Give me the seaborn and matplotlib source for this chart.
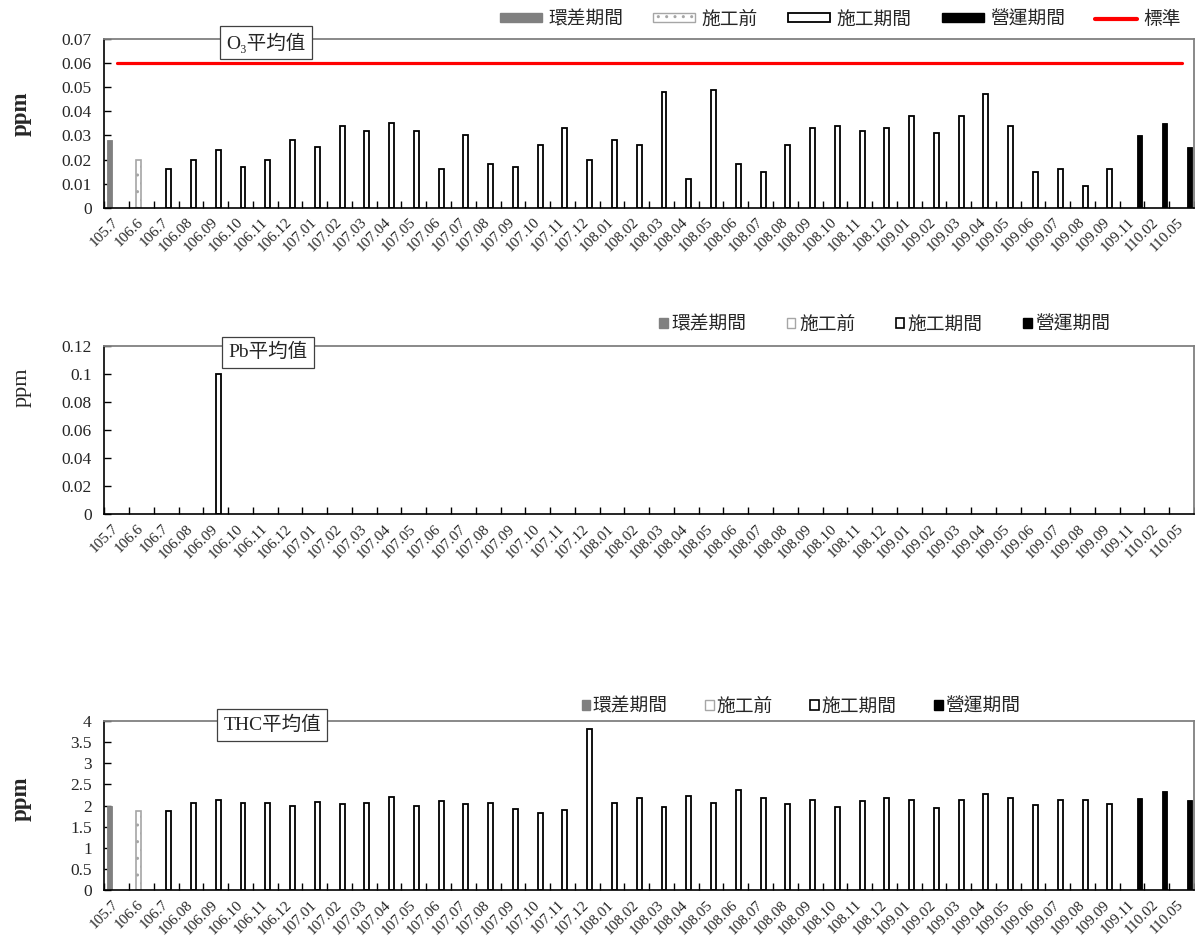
import numpy as np
import pandas as pd
import matplotlib
matplotlib.use("Agg")
import matplotlib.pyplot as plt
import seaborn as sns
from matplotlib.patches import Patch
from matplotlib.lines import Line2D
from matplotlib.ticker import MultipleLocator, FuncFormatter

# ---------------- data ----------------
categories = ["105.7", "106.6", "106.7", "106.08", "106.09", "106.10", "106.11", "106.12",
              "107.01", "107.02", "107.03", "107.04", "107.05", "107.06", "107.07", "107.08",
              "107.09", "107.10", "107.11", "107.12",
              "108.01", "108.02", "108.03", "108.04", "108.05", "108.06", "108.07", "108.08",
              "108.09", "108.10", "108.11", "108.12",
              "109.01", "109.02", "109.03", "109.04", "109.05", "109.06", "109.07", "109.08",
              "109.09", "109.11", "110.02", "110.05"]

periods = (["環差期間", "施工前"] + ["施工期間"] * 39 + ["營運期間"] * 3)
period_order = ["環差期間", "施工前", "施工期間", "營運期間"]

o3_values = [0.028, 0.020, 0.016, 0.020, 0.024, 0.017, 0.020, 0.028,
             0.025, 0.034, 0.032, 0.035, 0.032, 0.016, 0.030, 0.018, 0.017, 0.026, 0.033, 0.020,
             0.028, 0.026, 0.048, 0.012, 0.049, 0.018, 0.015, 0.026, 0.033, 0.034, 0.032, 0.033,
             0.038, 0.031, 0.038, 0.047, 0.034, 0.015, 0.016, 0.009, 0.016,
             0.030, 0.035, 0.025]
o3_standard = [0.06] * 44

pb_values = [None, None, None, None, 0.1, None, None, None,
             None, None, None, None, None, None, None, None, None, None, None, None,
             None, None, None, None, None, None, None, None, None, None, None, None,
             None, None, None, None, None, None, None, None, None,
             None, None, None]

thc_values = [2.00, 1.87, 1.87, 2.07, 2.13, 2.05, 2.06, 2.00,
              2.09, 2.03, 2.06, 2.21, 1.98, 2.11, 2.03, 2.06, 1.92, 1.83, 1.89, 3.80,
              2.07, 2.17, 1.97, 2.22, 2.06, 2.37, 2.17, 2.04, 2.13, 1.97, 2.11, 2.18,
              2.13, 1.93, 2.13, 2.28, 2.17, 2.02, 2.14, 2.12, 2.03,
              2.17, 2.35, 2.14]

# ---------------- style ----------------
sns.set_theme(style="white")
plt.rcParams["font.family"] = ["Liberation Serif", "Noto Sans CJK TC", "DejaVu Sans"]
plt.rcParams["hatch.color"] = "#9a9a9a"
plt.rcParams["hatch.linewidth"] = 1.0

GRAY = "#808080"
styles = {
    "環差期間": dict(facecolor=GRAY, edgecolor=GRAY, linewidth=0.6, hatch=None),
    "施工前": dict(facecolor="white", edgecolor="#a6a6a6", linewidth=1.2, hatch=".."),
    "施工期間": dict(facecolor="white", edgecolor="black", linewidth=1.3, hatch=None),
    "營運期間": dict(facecolor="black", edgecolor="black", linewidth=0.6, hatch=None),
}
palette = {"環差期間": GRAY, "施工前": "white", "施工期間": "white", "營運期間": "black"}

fig = plt.figure(figsize=(11.95, 9.41), dpi=100)
L, W = 104.3 / 1195, 1089.7 / 1195
ax1 = fig.add_axes([L, 1 - 207.7 / 941, W, 168.7 / 941])
ax2 = fig.add_axes([L, 1 - 514 / 941, W, 168.3 / 941])
ax3 = fig.add_axes([L, 1 - 890 / 941, W, 169 / 941])


def draw(ax, values, ymax, ystep, title, title_xy, ylab_bold, ylab_y):
    df = pd.DataFrame({"cat": categories, "period": periods, "value": values}).dropna()
    sns.barplot(data=df, x="cat", y="value", hue="period", order=categories,
                hue_order=period_order, palette=palette, width=0.8, dodge=True,
                errorbar=None, legend=False, saturation=1, ax=ax)
    for p in ax.patches:
        cx = p.get_x() + p.get_width() / 2
        off = cx - round(cx)
        idx = int(round((off + 0.3) / 0.2))
        idx = min(max(idx, 0), 3)
        st = styles[period_order[idx]]
        p.set_facecolor(st["facecolor"])
        p.set_edgecolor(st["edgecolor"])
        p.set_linewidth(st["linewidth"])
        if st["hatch"]:
            p.set_hatch(st["hatch"])
    ax.set_xlim(-0.5, len(categories) - 0.5)
    ax.set_ylim(0, ymax)
    ax.set_xlabel("")
    ax.set_ylabel("ppm", fontsize=16.5 if ylab_bold else 16,
                  fontweight="bold" if ylab_bold else "normal")
    ax.yaxis.set_label_coords(-0.067, ylab_y)
    ax.yaxis.set_major_locator(MultipleLocator(ystep))
    ax.yaxis.set_major_formatter(FuncFormatter(lambda v, pos: f"{round(v, 6):g}"))
    ax.tick_params(axis="y", direction="in", length=5, width=1, color="black",
                   pad=9, labelsize=12.5, left=True)
    ax.set_xticks(range(len(categories)))
    ax.set_xticklabels(categories, rotation=45, ha="right", va="center",
                       rotation_mode="anchor", fontsize=11)
    ax.tick_params(axis="x", which="major", length=0, pad=9, bottom=True)
    ax.set_xticks(np.arange(-0.5, len(categories), 1), minor=True)
    ax.tick_params(axis="x", which="minor", direction="in", length=5, width=1,
                   color="black", bottom=True)
    for s in ["top", "right"]:
        ax.spines[s].set_color(GRAY)
        ax.spines[s].set_linewidth(1.3)
    for s in ["left", "bottom"]:
        ax.spines[s].set_color("black")
        ax.spines[s].set_linewidth(1.2)
    ax.text(title_xy[0], title_xy[1], title, transform=ax.transAxes, ha="center",
            va="center", fontsize=14, zorder=10, clip_on=False,
            bbox=dict(boxstyle="square,pad=0.33", fc="white", ec="#404040", lw=0.9))


draw(ax1, o3_values, 0.07, 0.01, "O₃平均值", (0.148, 0.979), True, 0.555)
ax1.plot(np.arange(len(categories)), o3_standard, color="red", lw=2.3, zorder=5)
draw(ax2, pb_values, 0.12, 0.02, "Pb平均值", (0.150, 0.961), False, 0.755)
draw(ax3, thc_values, 4, 0.5, "THC平均值", (0.154, 0.976), True, 0.538)

# ---------------- legends ----------------
labels = period_order
big = [Patch(facecolor=GRAY, edgecolor=GRAY),
       Patch(facecolor="white", edgecolor="#a6a6a6", hatch="..", lw=1.0),
       Patch(facecolor="white", edgecolor="black", lw=1.3),
       Patch(facecolor="black", edgecolor="black")]
fig.legend(big + [Line2D([], [], color="red", lw=3)], labels + ["標準"],
           loc="center", bbox_to_anchor=(840.5 / 1195, 1 - 20 / 941), ncol=5,
           frameon=False, fontsize=13.5, handlelength=2.24, handleheight=0.37,
           handletextpad=0.35, columnspacing=1.6, borderpad=0, borderaxespad=0)

small = [Patch(facecolor=GRAY, edgecolor=GRAY),
         Patch(facecolor="white", edgecolor="#a6a6a6", lw=1.0),
         Patch(facecolor="white", edgecolor="black", lw=1.2),
         Patch(facecolor="black", edgecolor="black")]
fig.legend(small, labels, loc="center", bbox_to_anchor=(884.8 / 1195, 1 - 325 / 941),
           ncol=4, frameon=False, fontsize=13.5, handlelength=0.45, handleheight=0.45,
           handletextpad=0.2, columnspacing=2.15, borderpad=0, borderaxespad=0)
fig.legend(small, labels, loc="center", bbox_to_anchor=(801 / 1195, 1 - 707 / 941),
           ncol=4, frameon=False, fontsize=13.5, handlelength=0.45, handleheight=0.45,
           handletextpad=0.15, columnspacing=2.0, borderpad=0, borderaxespad=0)

fig.savefig("out.png", dpi=100)
